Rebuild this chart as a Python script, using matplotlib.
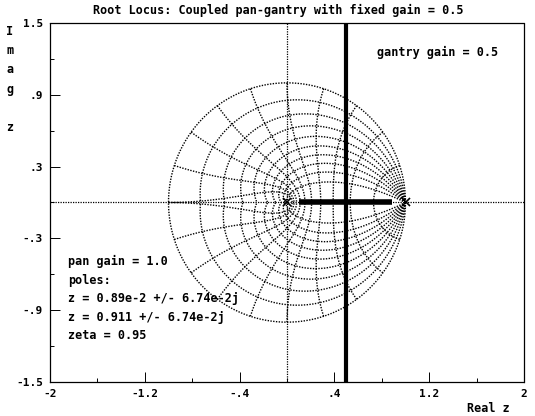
import numpy as np
import matplotlib.pyplot as plt

# z-plane grid values (damping ratios and natural frequencies, T = 1)
zetas = [0.1, 0.2, 0.3, 0.4, 0.5, 0.6, 0.7, 0.8, 0.9]
wns = np.pi * np.array([0.1, 0.2, 0.3, 0.4, 0.5, 0.6, 0.7, 0.8, 0.9, 1.0])

# root locus branches
real_branch = [0.1, 0.89]
breakaway_re = 0.5
open_loop_poles = [0.0, 1.0]

x_ticks = [-2, -1.2, -0.4, 0.4, 1.2, 2]
x_tick_labels = ["-2", "-1.2", "-.4", ".4", "1.2", "2"]
y_ticks = [-1.5, -0.9, -0.3, 0.3, 0.9, 1.5]
y_tick_labels = ["-1.5", "-.9", "-.3", ".3", ".9", "1.5"]
x_minor = [-1.6, -0.8, 0, 0.8, 1.6]
y_minor = [-1.2, -0.6, 0, 0.6, 1.2]

info_lines = ["pan gain = 1.0", "poles:", "z = 0.89e-2 +/- 6.74e-2j",
              "z = 0.911 +/- 6.74e-2j", "zeta = 0.95"]

font = {"family": "DejaVu Sans Mono", "weight": "bold"}
dots = (0, (1, 1))
grid_lw = 1.0

fig = plt.figure(figsize=(5.35, 4.16), dpi=100)
ax = fig.add_axes([50 / 535, 34 / 416, 474 / 535, 359 / 416])
ax.set_xlim(-2, 2)
ax.set_ylim(-1.5, 1.5)

# unit circle (zeta = 0)
th = np.linspace(0, 2 * np.pi, 400)
ax.plot(np.cos(th), np.sin(th), color="black", lw=grid_lw, ls=dots)

# constant damping curves
for zeta in zetas:
    wn = np.linspace(0, np.pi / np.sqrt(1 - zeta ** 2), 200)
    z = np.exp(-zeta * wn + 1j * wn * np.sqrt(1 - zeta ** 2))
    ax.plot(z.real, z.imag, color="black", lw=grid_lw, ls=dots)
    ax.plot(z.real, -z.imag, color="black", lw=grid_lw, ls=dots)

# constant natural frequency curves
for wn in wns:
    zeta = np.linspace(0, 1, 200)
    z = np.exp(-zeta * wn + 1j * wn * np.sqrt(1 - zeta ** 2))
    ax.plot(z.real, z.imag, color="black", lw=grid_lw, ls=dots)
    ax.plot(z.real, -z.imag, color="black", lw=grid_lw, ls=dots)

# axes through the origin
ax.axhline(0, color="black", lw=0.9, ls=dots)
ax.axvline(0, color="black", lw=0.9, ls=dots)

# locus
ax.plot(real_branch, [0, 0], color="black", lw=4, solid_capstyle="butt")
ax.axvline(breakaway_re, color="black", lw=3)
ax.plot(open_loop_poles, [0, 0], "x", color="black", ms=6, mew=1.2)

for s in ax.spines.values():
    s.set_linestyle(dots)
    s.set_linewidth(0.9)

ax.set_xticks(x_ticks)
ax.set_xticklabels(x_tick_labels, fontdict=font, fontsize=8)
ax.set_yticks(y_ticks)
ax.set_yticklabels(y_tick_labels, fontdict=font, fontsize=8)
ax.set_xticks(x_minor, minor=True)
ax.set_yticks(y_minor, minor=True)
ax.tick_params(which="major", direction="in", length=7, width=0.7, pad=5)
ax.tick_params(which="minor", direction="in", length=3, width=0.7)

fig.text(0.52, 0.975, "Root Locus: Coupled pan-gantry with fixed gain = 0.5",
         ha="center", va="center", fontsize=8.5, **font)
fig.text(10 / 535, 1 - 25 / 416, "I\nm\na\ng\n\nz", ha="center", va="top",
         fontsize=8.5, linespacing=1.62, **font)
fig.text(488 / 535, 1 - 409 / 416, "Real z", ha="center", va="center",
         fontsize=8.5, **font)

ax.text((377 - 50) / 474, (382 - 52) / 359, "gantry gain = 0.5",
        transform=ax.transAxes, ha="left", va="center", fontsize=8.5, **font)
ax.text((68 - 50) / 474, (382 - 255) / 359, "\n".join(info_lines),
        transform=ax.transAxes, ha="left", va="top", fontsize=8.5,
        linespacing=1.55, **font)

fig.savefig("out.png", dpi=100)
